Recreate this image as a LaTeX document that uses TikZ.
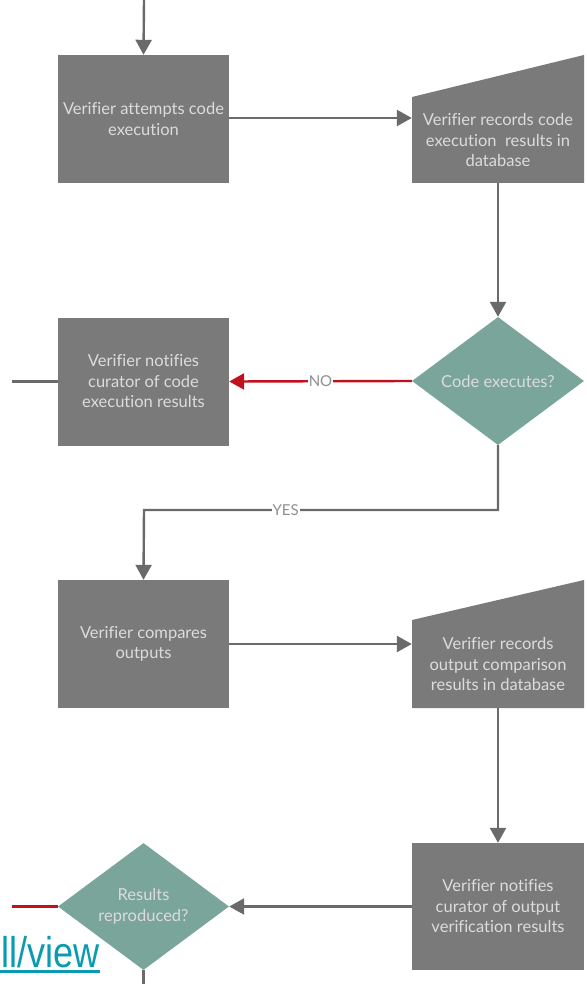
\documentclass[tikz,border=0pt]{standalone}
\usepackage{fontspec}
\setmainfont{Lato}[Ligatures=CommonOff]
\newfontfamily\linkfont{Liberation Sans}
\usetikzlibrary{shapes.geometric,arrows.meta}
\definecolor{boxgray}{HTML}{7A7A7A}
\definecolor{dteal}{HTML}{7AA59A}
\definecolor{linegray}{HTML}{6A6A6A}
\definecolor{nored}{HTML}{C2101E}
\definecolor{txt}{HTML}{DCDCDC}
\definecolor{linkc}{HTML}{0A9BB0}
\tikzset{
  boxfont/.style={font=\fontsize{16.5}{20.5}\selectfont},
  procbox/.style={rectangle, fill=boxgray, minimum width=171pt, minimum height=128pt, inner sep=0pt,
    text=txt, align=center, boxfont},
  mantext/.style={rectangle, minimum width=172pt, inner sep=0pt, text=txt, align=center, boxfont},
  decision/.style={diamond, fill=dteal, inner sep=0pt, text=txt, align=center, boxfont},
  conn/.style={draw=linegray, line width=2.4pt, -{Triangle[length=15pt,width=16pt]}},
  plain/.style={draw=linegray, line width=2.4pt},
  redconn/.style={draw=nored, line width=2.4pt, -{Triangle[length=15pt,width=16pt]}},
  lbl/.style={fill=white, inner sep=1pt, text=linegray!75, font=\fontsize{15}{17}\selectfont}
}
\begin{document}
\begin{tikzpicture}[x=1pt,y=-1pt]
\useasboundingbox (0,0) rectangle (586,984);
% boxes
\node[procbox] (b1) at (143.5,119) {Verifier attempts code\\execution};
\node[procbox] (b3) at (143.5,381.5) {Verifier notifies\\curator of code\\execution results};
\node[procbox] (b4) at (143.5,644) {Verifier compares\\outputs};
\node[procbox, minimum width=172pt, minimum height=127pt] (b6) at (498,906.5) {Verifier notifies\\curator of output\\verification results};
% manual input shapes
\coordinate (m2tl) at (412,97);
\coordinate (m2tr) at (584,55);
\coordinate (m2br) at (584,183);
\coordinate (m2bl) at (412,183);
\fill[boxgray] (m2tl) -- (m2tr) -- (m2br) -- (m2bl) -- cycle;
\node[mantext, minimum height=86pt] (m2) at (498,140) {Verifier records code\\execution\ \ results in\\database};
\coordinate (m5tl) at (412,620);
\coordinate (m5tr) at (584,580);
\coordinate (m5br) at (584,708);
\coordinate (m5bl) at (412,708);
\fill[boxgray] (m5tl) -- (m5tr) -- (m5br) -- (m5bl) -- cycle;
\node[mantext, minimum height=88pt] (m5) at (498,664) {Verifier records\\output comparison\\results in database};
% decisions
\node[decision, minimum width=172pt, minimum height=128pt] (d1) at (498,381) {Code executes?};
\node[decision, minimum width=171pt, minimum height=127pt] (d2) at (143.5,906.5) {Results\\reproduced?};
% free ends
\coordinate (top) at (144,0);
\coordinate (l3) at (12,381.5);
\coordinate (l7) at (12,906.5);
\coordinate (bot) at (143.5,984);
% connectors
\draw[conn] (top) -- (b1.north);
\draw[conn] (b1.east |- 0,118) -- (m2.west |- 0,118);
\draw[conn] (m2.south) -- (d1.north);
\draw[redconn] (d1.west) -- node[lbl]{NO} (b3.east);
\draw[plain] (b3.west) -- (l3);
\draw[conn] (d1.south) -- (498,510) -- node[lbl, pos=0.6]{YES} (144,510) -- (b4.north);
\draw[conn] (b4.east) -- (m5.west |- b4.east);
\draw[conn] (m5.south) -- (b6.north);
\draw[conn] (b6.west) -- (d2.east);
\draw[draw=nored, line width=2.4pt] (d2.west) -- (l7);
\draw[plain] (d2.south) -- (bot);
% link fragment
\node[anchor=base west, inner sep=0pt, text=linkc, font=\linkfont\fontsize{43}{48}\selectfont] (lnk) at (1,967) {\scalebox{0.84}[1]{ll/view}};
\draw[linkc, line width=2.6pt] (0,971.5) -- (lnk.east |- 0,971.5);
\end{tikzpicture}
\end{document}
